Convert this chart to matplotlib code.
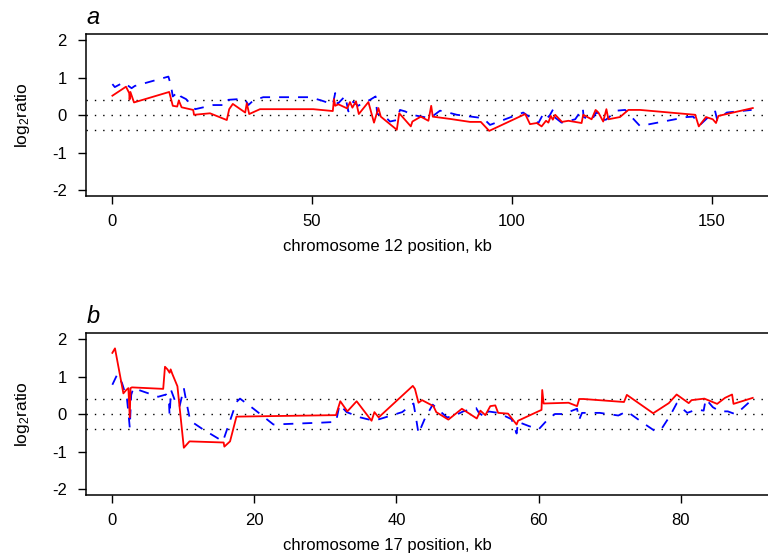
"""Two-panel log2 ratio profiles along chromosome 12 and chromosome 17."""

import matplotlib
matplotlib.use("Agg")
import matplotlib.pyplot as plt

plt.rcParams["font.family"] = ["Liberation Sans", "DejaVu Sans"]
plt.rcParams["mathtext.default"] = "regular"
plt.rcParams["axes.unicode_minus"] = False

# panel a: chromosome 12 (kb, log2 ratio)
chr12_red_kb = [0.1, 3.5, 4.3, 4.4, 4.6, 5.5, 14.3, 15.2, 16.3, 16.7, 17.4, 20.3, 20.5,
                24.5, 28.7, 29.3, 30.2, 33.3, 33.7, 34.3, 37.0, 50.3, 55.2, 55.5, 55.8,
                56.6, 58.8, 59.5, 60.1, 61.0, 61.7, 64.1, 65.5, 66.6, 67.2, 71.2, 71.8,
                72.4, 74.7, 75.1, 77.2, 79.1, 79.8, 80.2, 84.5, 89.5, 92.2, 94.3, 103.3,
                104.5, 106.2, 107.4, 108.5, 109.1, 109.7, 110.2, 110.8, 112.5, 114.1,
                117.4, 117.8, 119.9, 120.9, 121.6, 122.8, 123.6, 124.1, 127.0, 129.1,
                132.0, 145.8, 146.7, 148.5, 150.2, 151.0, 151.6, 160.2]
chr12_red = [0.52, 0.76, 0.59, 0.42, 0.62, 0.34, 0.62, 0.25, 0.23, 0.39, 0.21, 0.14, 0.01,
             0.05, -0.13, 0.16, 0.30, 0.07, 0.32, 0.03, 0.16, 0.16, 0.11, 0.43, 0.25,
             0.29, 0.18, 0.35, 0.20, 0.37, 0.03, 0.35, -0.20, 0.19, -0.04, -0.39, 0.05,
             -0.02, -0.30, -0.17, -0.04, -0.15, 0.25, -0.04, -0.10, -0.18, -0.18, -0.42, 0.03,
             -0.24, -0.21, -0.30, -0.15, -0.20, -0.02, -0.12, 0.01, -0.18, -0.15,
             -0.21, 0.01, -0.11, 0.14, 0.07, -0.17, 0.16, -0.11, -0.05, 0.14,
             0.14, 0.01, -0.30, -0.05, -0.11, -0.21, -0.02, 0.19]
chr12_blue_kb = [0.1, 0.7, 2.8, 3.6, 4.9, 5.7, 14.1, 14.7, 15.2, 16.6, 17.2, 18.5, 20.8,
                 25.3, 28.7, 29.1, 31.8, 33.3, 34.1, 35.3, 37.8, 49.5, 52.4, 55.2, 55.8,
                 56.4, 58.3, 59.1, 60.3, 61.5, 62.8, 64.5, 65.9, 66.3, 67.8, 69.5, 71.2,
                 72.0, 73.3, 74.9, 79.5, 82.0, 84.1, 86.2, 92.8, 94.5, 102.8, 106.6, 108.0,
                 109.2, 110.3, 110.6, 112.4, 115.8, 117.7, 117.9, 119.9, 121.2, 122.0,
                 123.5, 126.2, 128.3, 129.9, 132.0, 143.7, 145.3, 147.0, 149.1, 150.8,
                 151.3, 153.7, 159.9]
chr12_blue = [0.83, 0.75, 0.87, 0.82, 0.72, 0.78, 1.03, 0.81, 0.50, 0.63, 0.50, 0.43, 0.16,
              0.27, 0.27, 0.41, 0.43, 0.41, 0.27, 0.39, 0.48, 0.48, 0.39, 0.29, 0.59,
              0.30, 0.51, 0.10, 0.36, 0.25, 0.32, 0.41, 0.50, 0.03, 0.01, -0.17, -0.13,
              0.14, 0.10, 0.01, -0.08, 0.12, 0.07, 0.01, -0.08, -0.26, 0.07, -0.21, 0.07,
              -0.05, 0.16, -0.05, -0.20, -0.11, 0.19, -0.05, -0.14, 0.10, -0.14,
              -0.12, 0.12, 0.14, -0.05, -0.29, -0.05, -0.04, -0.26, -0.05, 0.10,
              -0.13, 0.07, 0.14]

# panel b: chromosome 17 (kb, log2 ratio)
chr17_red_kb = [0.05, 0.42, 1.6, 2.0, 2.3, 2.5, 2.6, 2.8, 7.2, 7.45, 7.8, 8.1, 8.25, 8.5,
                9.2, 10.1, 10.9, 15.7, 15.8, 16.6, 17.5, 31.5, 32.1, 33.1, 34.4, 36.5,
                36.9, 37.5, 42.3, 42.6, 43.1, 43.6, 45.2, 45.6, 47.3, 49.2, 51.3, 51.8,
                52.5, 53.2, 53.9, 54.3, 55.7, 56.9, 57.1, 60.4, 60.5, 60.7, 64.2, 65.4,
                65.7, 66.3, 72.0, 72.4, 76.1, 78.3, 79.4, 81.1, 81.5, 83.3, 85.1, 86.2,
                87.2, 87.4, 90.1]
chr17_red = [1.63, 1.75, 0.55, 0.64, 0.69, -0.09, 0.69, 0.71, 0.67, 1.26, 1.19, 1.10, 1.19, 1.06,
             0.74, -0.90, -0.73, -0.76, -0.87, -0.73, -0.07, -0.03, 0.34, 0.07, 0.34, -0.18,
             0.05, -0.09, 0.75, 0.67, 0.30, 0.37, 0.21, 0.05, -0.15, 0.14, -0.12, 0.09,
             -0.03, 0.21, 0.23, 0.03, 0.01, -0.28, -0.18, 0.11, 0.64, 0.28, 0.30, 0.21,
             0.40, 0.40, 0.32, 0.51, 0.02, 0.29, 0.52, 0.29, 0.37, 0.41, 0.27, 0.43,
             0.52, 0.27, 0.43]
chr17_blue_kb = [0.05, 0.75, 1.4, 2.1, 2.3, 2.5, 2.7, 3.0, 6.5, 7.6, 8.0, 8.1, 8.3, 9.1,
                 9.5, 10.1, 10.5, 11.0, 12.8, 15.6, 17.5, 18.0, 19.9, 22.7, 29.5, 31.5,
                 32.0, 33.0, 34.9, 36.8, 37.9, 40.8, 42.4, 42.7, 43.1, 44.0, 45.1, 47.1,
                 48.0, 49.4, 51.2, 51.6, 52.5, 52.9, 54.3, 56.2, 56.9, 57.1, 58.6, 60.0,
                 61.4, 62.3, 63.5, 65.4, 65.7, 66.1, 68.6, 71.2, 72.4, 75.0, 76.4, 77.3,
                 78.5, 79.4, 80.9, 82.2, 83.2, 83.5, 84.5, 85.5, 86.6, 87.6, 88.3, 90.1]
chr17_blue = [0.78, 1.06, 0.83, 0.41, 0.05, -0.37, 0.51, 0.69, 0.46, 0.52, 0.35, -0.04, 0.64, 0.23,
              0.20, 0.69, 0.28, -0.18, -0.41, -0.73, 0.32, 0.41, 0.14, -0.28, -0.23, -0.21,
              0.25, 0.05, -0.09, -0.18, -0.12, 0.05, 0.28, -0.04, -0.52, -0.12, 0.25, -0.09,
              -0.06, 0.07, 0.16, 0.03, -0.09, 0.07, 0.03, -0.14, -0.52, -0.21, -0.32, -0.41,
              -0.12, 0.00, 0.00, 0.14, -0.15, 0.03, 0.03, -0.04, 0.07, -0.28, -0.46, -0.39,
              -0.04, 0.28, 0.03, 0.12, 0.09, 0.40, 0.18, 0.07, 0.07, 0.00, 0.09, 0.40]

thresholds = [0.4, 0.0, -0.4]
y_ticks = [-2, -1, 0, 1, 2]


def draw_panel(ax, red_kb, red, blue_kb, blue, xmax, xticks, letter, chrom):
    for h in thresholds:
        ax.axhline(h, color="black", lw=1.0, linestyle=(0, (1, 5)), zorder=1)
    ax.plot(blue_kb, blue, color="#0000ff", lw=1.3, dashes=(5.5, 5), zorder=2)
    ax.plot(red_kb, red, color="#ff0000", lw=1.3, zorder=3)
    pad = 0.04 * xmax
    ax.set_xlim(-pad, xmax + pad)
    ax.set_ylim(-2.16, 2.16)
    ax.set_xticks(xticks)
    ax.set_yticks(y_ticks)
    ax.tick_params(direction="out", length=6, width=1.0, labelsize=12, pad=7)
    ax.tick_params(axis="y", pad=8)
    for s in ax.spines.values():
        s.set_linewidth(1.1)
    ax.set_ylabel("log$_2$ratio", fontsize=12.5)
    ax.yaxis.set_label_coords(-0.079, 0.5)
    ax.set_xlabel(f"chromosome {chrom} position, kb", fontsize=12)
    ax.xaxis.set_label_coords(0.435, -0.265)
    ax.text(0.0, 1.03, letter, transform=ax.transAxes, fontsize=17,
            style="italic", ha="left", va="bottom")


fig = plt.figure(figsize=(7.68, 5.55), dpi=100)
ax_a = fig.add_axes([0.1125, 0.6468, 0.90, 0.2914])
ax_b = fig.add_axes([0.1125, 0.1081, 0.90, 0.2919])

draw_panel(ax_a, chr12_red_kb, chr12_red, chr12_blue_kb, chr12_blue,
           160, [0, 50, 100, 150], "a", 12)
draw_panel(ax_b, chr17_red_kb, chr17_red, chr17_blue_kb, chr17_blue,
           90, [0, 20, 40, 60, 80], "b", 17)

fig.savefig("out.png", dpi=100)
